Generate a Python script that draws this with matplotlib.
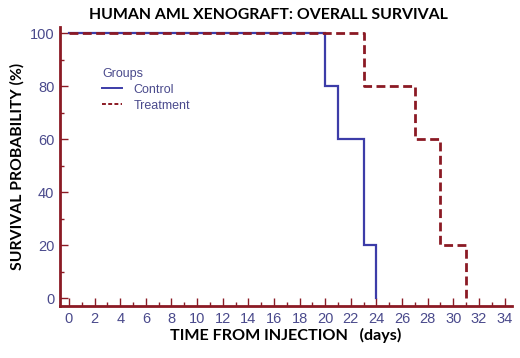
import matplotlib.pyplot as plt
import numpy as np
from matplotlib.ticker import MultipleLocator
from matplotlib.lines import Line2D

# survival steps (days, %)
controlDays = [0, 20, 21, 23, 24]
controlSurv = [100, 80, 60, 20, 0]
treatDays = [0, 23, 27, 29, 31]
treatSurv = [100, 80, 60, 20, 0]

xTicks = list(range(0, 35, 2))
yTicks = [0, 20, 40, 60, 80, 100]

blue = "#3c3ca8"
red = "#8b1a24"
labelCol = "#4a4a8c"

fig = plt.figure(figsize=(5.2, 3.58), dpi=100)
ax = fig.add_axes([0.1154, 0.1453, 0.8696, 0.7793])

def km(days, surv):
    xs = [days[0]]
    ys = [surv[0]]
    for i in range(1, len(days)):
        xs += [days[i], days[i]]
        ys += [surv[i - 1], surv[i]]
    return xs, ys

cx, cy = km(controlDays, controlSurv)
tx, ty = km(treatDays, treatSurv)
ax.plot(cx, cy, color=blue, lw=1.6, solid_joinstyle="miter")
ax.plot(tx, ty, color=red, lw=2.0, dashes=(3.2, 1.6))

ax.set_xlim(-0.7, 34.6)
ax.set_ylim(-3, 102.3)
ax.set_xticks(xTicks)
ax.set_yticks(yTicks)
ax.xaxis.set_minor_locator(MultipleLocator(1))
ax.yaxis.set_minor_locator(MultipleLocator(10))

for s in ["top", "right"]:
    ax.spines[s].set_visible(False)
for s in ["left", "bottom"]:
    ax.spines[s].set_color(red)
    ax.spines[s].set_linewidth(2.0)

ax.tick_params(which="major", direction="in", length=6, width=1.0, color=red,
               labelcolor=labelCol, labelsize=10.5, pad=4)
ax.tick_params(which="minor", direction="in", length=3, width=1.0, color=red)
for lab in ax.get_xticklabels() + ax.get_yticklabels():
    lab.set_family("Liberation Sans")

ax.set_title("HUMAN AML XENOGRAFT: OVERALL SURVIVAL", fontsize=11.4,
             fontweight="bold", family="Lato", pad=6, x=0.46)
ax.set_xlabel("TIME FROM INJECTION   (days)", fontsize=11.6, fontweight="bold",
              family="Lato", labelpad=2)
ax.set_ylabel("SURVIVAL PROBABILITY (%)", fontsize=11.3, fontweight="bold",
              family="Lato", labelpad=4)

handles = [Line2D([], [], color=blue, lw=1.4),
           Line2D([], [], color=red, lw=1.4, dashes=(2, 1.2))]
leg = ax.legend(handles, ["Control", "Treatment"], title="Groups",
                loc="upper left", bbox_to_anchor=(0.08, 0.875), frameon=False,
                fontsize=9, title_fontsize=9, handlelength=1.6,
                handletextpad=0.9, labelspacing=0.3, borderpad=0)
leg._legend_box.align = "left"
for t in leg.get_texts():
    t.set_color(labelCol)
    t.set_family("Liberation Sans")
leg.get_title().set_color(labelCol)
leg.get_title().set_family("Liberation Sans")

fig.savefig("out.png", dpi=100)
